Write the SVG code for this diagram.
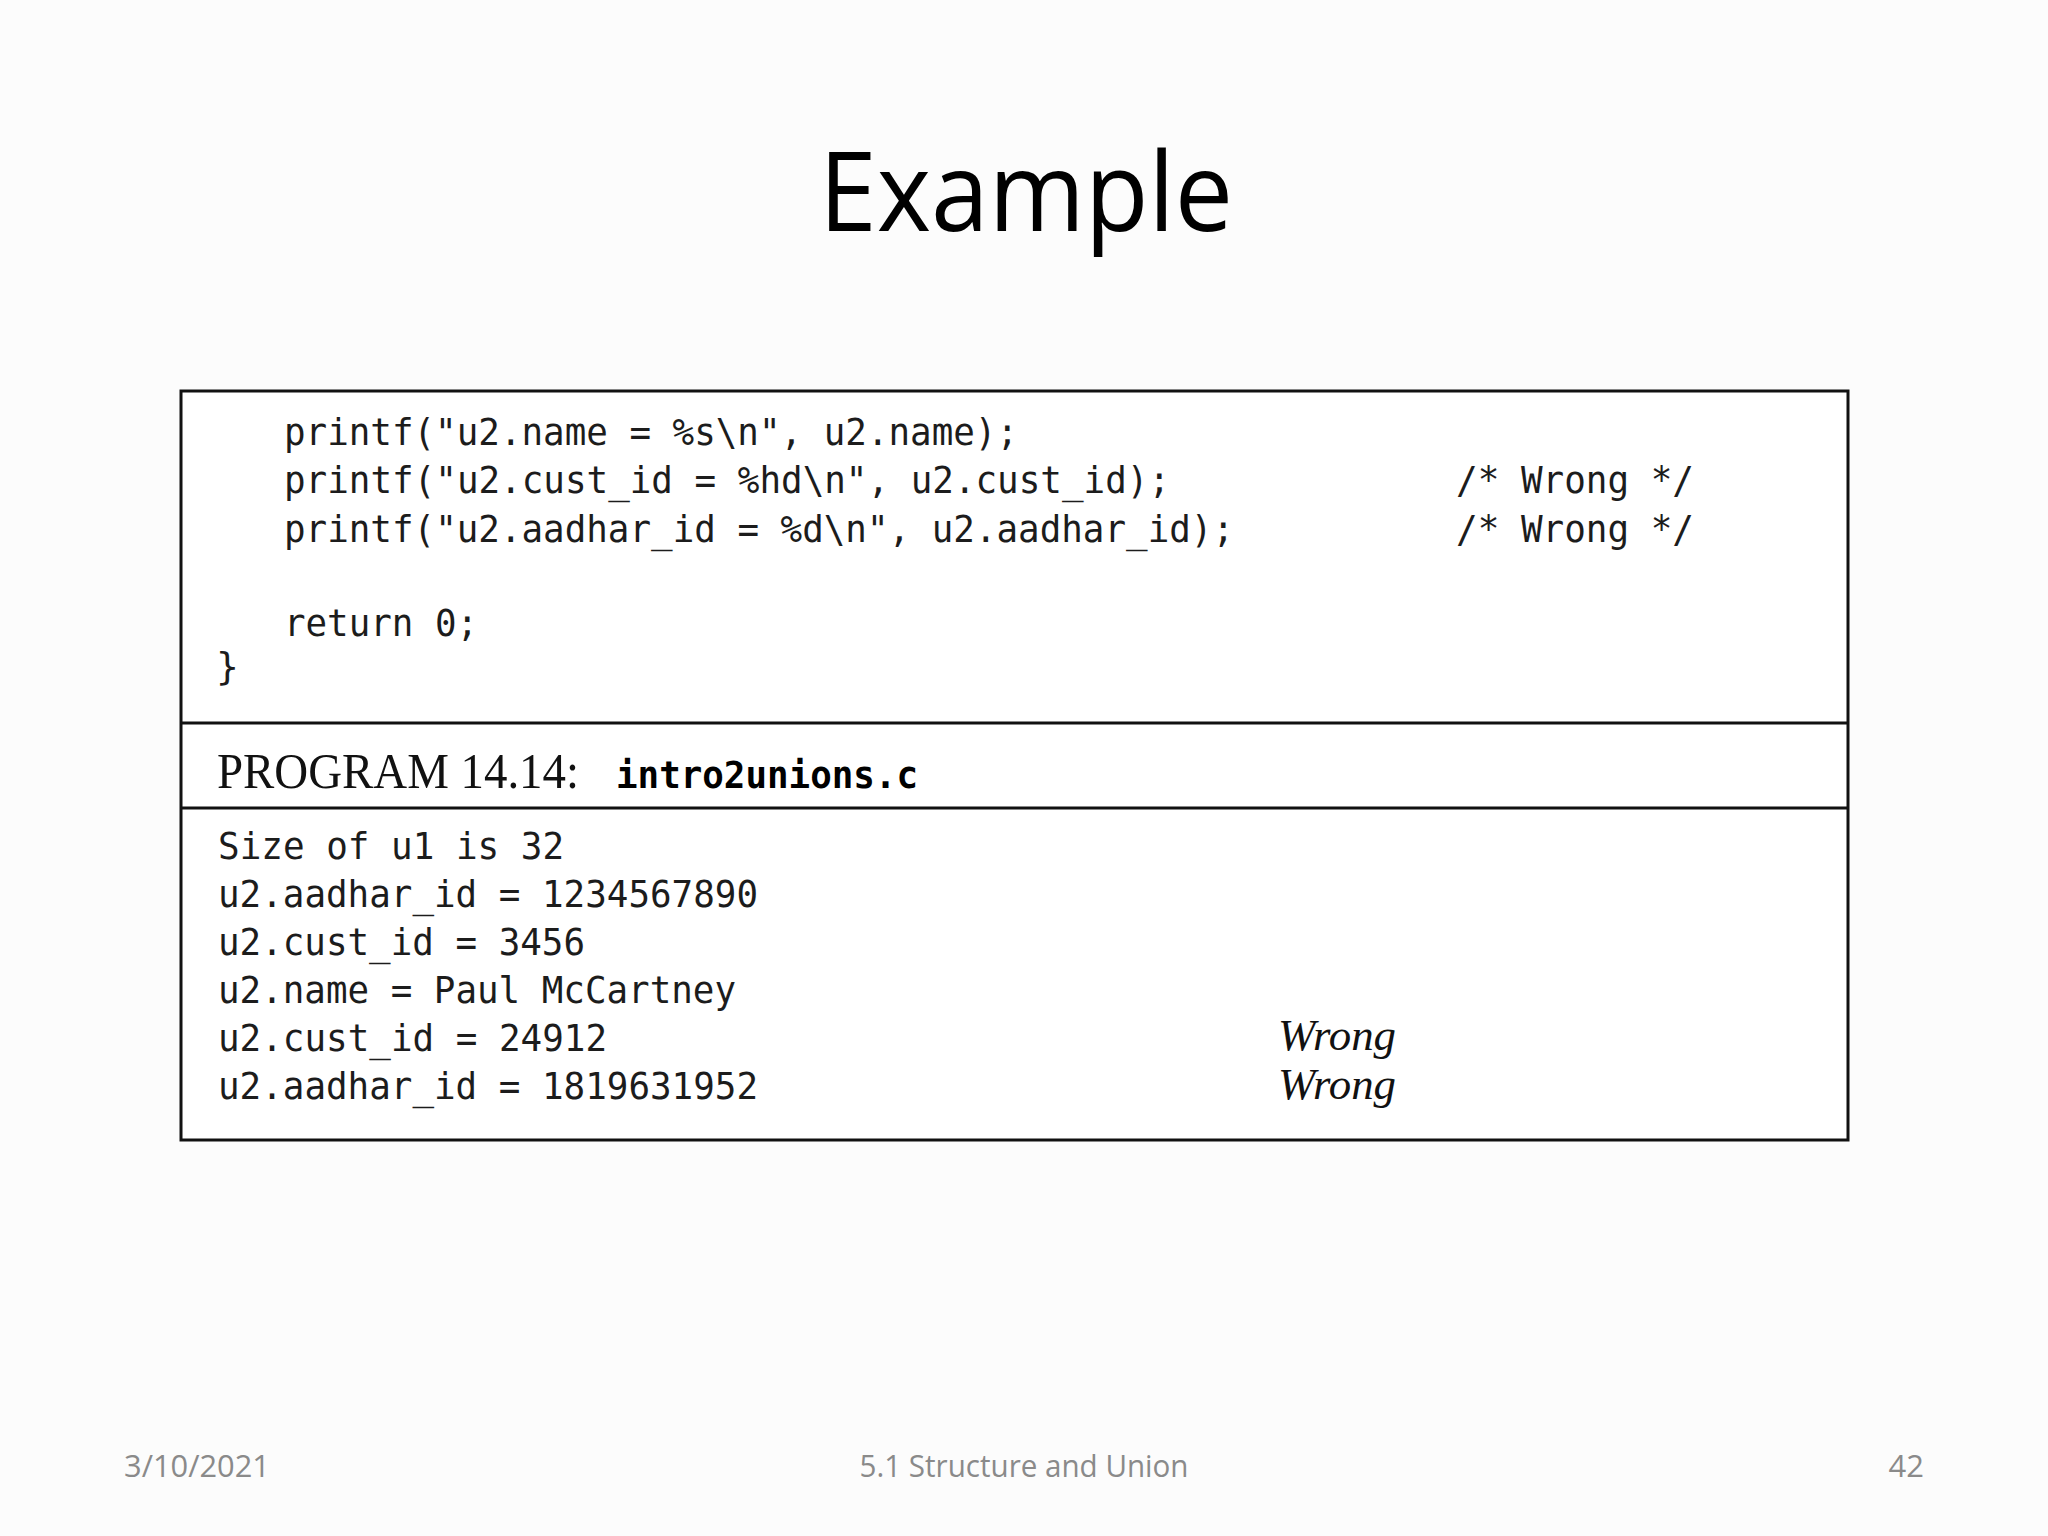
<svg xmlns="http://www.w3.org/2000/svg" width="2048" height="1536" viewBox="0 0 2048 1536">
<style>
.title{font-family:"Open Sans","Noto Sans",sans-serif;font-size:110px;fill:#000}
.foot{font-family:"Open Sans","Noto Sans",sans-serif;font-size:31px;fill:#8a8a8a}
.code{font-family:"DejaVu Sans Mono","Liberation Mono",monospace;font-size:38px;fill:#1c1c1c}
.cmt{font-family:"DejaVu Sans Mono","Liberation Mono",monospace;font-size:37px;fill:#1c1c1c}
.cap{font-family:"Liberation Serif","Times New Roman",serif;font-size:50px;fill:#111}
.capb{font-family:"DejaVu Sans Mono","Liberation Mono",monospace;font-size:37px;font-weight:bold;fill:#000}
.ital{font-family:"Liberation Serif","Times New Roman",serif;font-style:italic;font-size:44px;fill:#111}
.frame{fill:#ffffff;stroke:#111;stroke-width:3}
.rule{stroke:#111;stroke-width:3}
</style>
<rect width="2048" height="1536" fill="#fcfcfc"/>
<g id="title"><text class="title" x="1026" y="231" text-anchor="middle" textLength="414" lengthAdjust="spacingAndGlyphs">Example</text></g>
<g id="listing">
<rect class="frame" x="181" y="391" width="1667" height="749"/>
<line class="rule" x1="181" y1="723" x2="1848" y2="723"/>
<line class="rule" x1="181" y1="808" x2="1848" y2="808"/>
<text class="code" x="284" y="445" textLength="734" lengthAdjust="spacingAndGlyphs">printf("u2.name = %s\n", u2.name);</text>
<text class="code" x="284" y="493" textLength="886" lengthAdjust="spacingAndGlyphs">printf("u2.cust_id = %hd\n", u2.cust_id);</text>
<text class="code" x="284" y="542" textLength="950" lengthAdjust="spacingAndGlyphs">printf("u2.aadhar_id = %d\n", u2.aadhar_id);</text>
<text class="code" x="284" y="636" textLength="194" lengthAdjust="spacingAndGlyphs">return 0;</text>
<text class="code" x="216" y="679">}</text>
<text class="cmt" x="1456" y="493" textLength="238" lengthAdjust="spacingAndGlyphs">/* Wrong */</text>
<text class="cmt" x="1456" y="542" textLength="238" lengthAdjust="spacingAndGlyphs">/* Wrong */</text>
<text class="cap" x="217" y="788" textLength="362" lengthAdjust="spacingAndGlyphs">PROGRAM 14.14:</text>
<text class="capb" x="616" y="788" textLength="302" lengthAdjust="spacingAndGlyphs">intro2unions.c</text>
<text class="code" x="218" y="859" textLength="346" lengthAdjust="spacingAndGlyphs">Size of u1 is 32</text>
<text class="code" x="218" y="907" textLength="540" lengthAdjust="spacingAndGlyphs">u2.aadhar_id = 1234567890</text>
<text class="code" x="218" y="955" textLength="367" lengthAdjust="spacingAndGlyphs">u2.cust_id = 3456</text>
<text class="code" x="218" y="1003" textLength="518" lengthAdjust="spacingAndGlyphs">u2.name = Paul McCartney</text>
<text class="code" x="218" y="1051" textLength="389" lengthAdjust="spacingAndGlyphs">u2.cust_id = 24912</text>
<text class="code" x="218" y="1099" textLength="540" lengthAdjust="spacingAndGlyphs">u2.aadhar_id = 1819631952</text>
<text class="ital" x="1278" y="1050" textLength="118" lengthAdjust="spacingAndGlyphs">Wrong</text>
<text class="ital" x="1278" y="1099" textLength="118" lengthAdjust="spacingAndGlyphs">Wrong</text>
</g>
<g id="footer">
<text class="foot" x="124" y="1477" textLength="146" lengthAdjust="spacingAndGlyphs">3/10/2021</text>
<text class="foot" x="1024" y="1477" text-anchor="middle" textLength="329" lengthAdjust="spacingAndGlyphs">5.1 Structure and Union</text>
<text class="foot" x="1924" y="1477" text-anchor="end">42</text>
</g>
</svg>
